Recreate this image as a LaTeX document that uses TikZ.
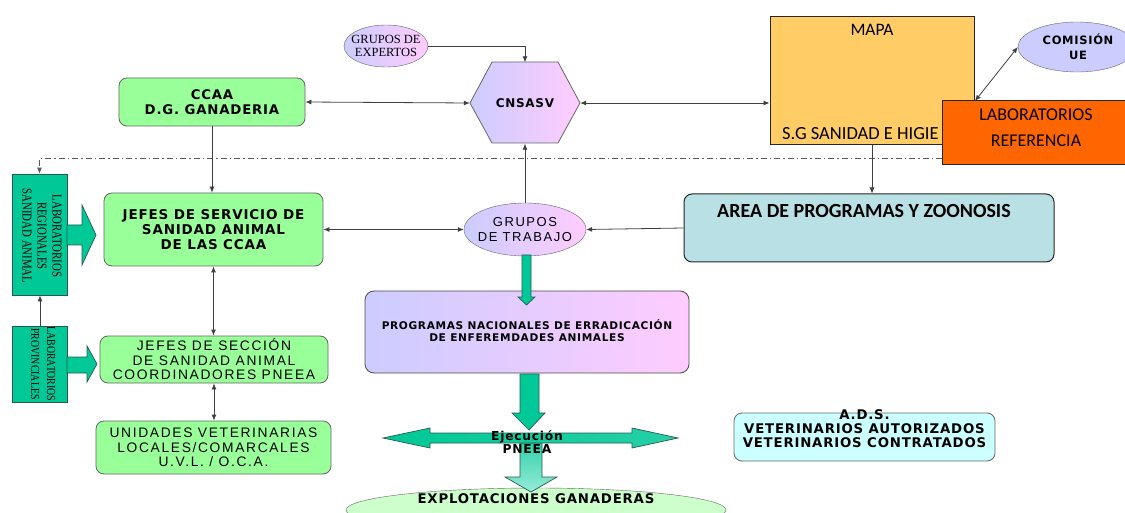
\documentclass[tikz,border=0pt]{standalone}
\usepackage{fontspec}
\setmainfont{DejaVu Sans}
\newfontfamily\vb[LetterSpace=6]{DejaVu Sans Bold}
\newfontfamily\ar[LetterSpace=12]{Liberation Sans}
\newfontfamily\cb{Carlito}
\newfontfamily\tm{Liberation Serif}
\newfontfamily\tmc[FakeStretch=0.8]{Liberation Serif}
\usetikzlibrary{arrows.meta,calc,shapes.geometric}
\definecolor{lgreen}{RGB}{153,255,153}
\definecolor{lav}{RGB}{204,204,255}
\definecolor{pnk}{RGB}{255,204,255}
\definecolor{mapac}{RGB}{255,204,102}
\definecolor{labc}{RGB}{255,102,0}
\definecolor{areac}{RGB}{185,224,228}
\definecolor{adsc}{RGB}{204,255,255}
\definecolor{explc}{RGB}{204,255,204}
\definecolor{tealc}{RGB}{0,200,150}
\definecolor{teald}{RGB}{40,90,80}
\definecolor{tealh}{RGB}{150,235,215}
\begin{document}
\begin{tikzpicture}[x=1pt,y=-1pt,
  con/.style={draw=black!75, line width=0.8pt, -{Latex[length=6pt,width=5pt]}},
  dcon/.style={draw=black!75, line width=0.8pt, {Latex[length=6pt,width=5pt]}-{Latex[length=6pt,width=5pt]}},
  gbox/.style={draw=black!60, line width=0.8pt, rounded corners=8pt, fill=lgreen, align=center, inner sep=0pt},
  grad/.style={left color=lav, right color=pnk},
  blk/.style={fill=tealc, draw=teald, line width=0.7pt},
  txt/.style={align=center, inner sep=0pt}
]
\useasboundingbox (0,0) rectangle (1125,513);

% top row
\node[ellipse, draw=black!60, grad, minimum width=84pt, minimum height=42pt, inner sep=0pt] (exp) at (386,46) {};
\node[txt, font={\tm\fontsize{12.5}{12.5}\selectfont}] (expt) at (386,46) {GRUPOS DE\\EXPERTOS};
\path[draw=black!60, line width=0.8pt, grad] (470,103) -- (492,62) -- (558,62) -- (580,103) -- (558,143) -- (492,143) -- cycle;
\node[minimum width=110pt, minimum height=81pt, inner sep=0pt, font={\vb\fontsize{12}{12}\selectfont}] (cns) at (525,103) {CNSASV};
\node[gbox, minimum width=186pt, minimum height=48pt, font={\vb\fontsize{13.3}{15}\selectfont}] (ccaa) at (212,102) {CCAA\\D.G. GANADERIA};
\node[draw=black!85, line width=1pt, fill=mapac, minimum width=204pt, minimum height=128pt] (mapa) at (872,81) {};
\node[txt, font={\cb\fontsize{17.5}{17}\selectfont}] (mapat) at (872,30) {MAPA};
\node[txt, anchor=west, font={\cb\fontsize{18.5}{17}\selectfont}] (mapab) at (782,134) {S.G SANIDAD E HIGIE};
\node[ellipse, draw=black!60, fill=lav, minimum width=118pt, minimum height=50pt, inner sep=0pt] (com) at (1077,47) {};
\node[txt, font={\vb\fontsize{11.5}{15}\selectfont}] (comt) at (1078,47) {COMISIÓN\\UE};
\node[draw=black!85, line width=1pt, fill=labc, minimum width=188pt, minimum height=64pt] (lab) at (1036,133) {};
\node[txt, font={\cb\fontsize{18}{26}\selectfont}] (labt) at (1036,128) {LABORATORIOS\\REFERENCIA};
\coordinate (labc) at (975,101);

\draw[con] (exp.east) -| (cns.north);
\draw[dcon] (ccaa.east) -- (cns.west);
\draw[dcon] (cns.east) -- (mapa.west |- cns.east);
\draw[dcon] (labc) -- (com.west);

% dash-dot line
\coordinate (dd) at (942,158);

% lab boxes left
\node[blk, minimum width=55pt, minimum height=121pt] (labr) at (39.5,234.5) {};
\node[txt, rotate=-90, font={\tmc\fontsize{13.5}{15}\selectfont}] (labrt) at (42,236) {LABORATORIOS\\REGIONALES\\SANIDAD ANIMAL};
\node[blk, minimum width=55pt, minimum height=76pt] (labp) at (39.5,364) {};
\node[txt, rotate=-90, font={\tmc\fontsize{12.3}{16}\selectfont}] (labpt) at (43,364) {LABORATORIOS\\PROVINCIALES};
\draw[con, dash pattern=on 6pt off 3pt on 1.5pt off 3pt, draw=black!65] (dd) -| (labr.north);
\draw[con] (labp.north -| 40,0) -- (labr.south -| 40,0);

\path[blk] (67,225) -- (82,225) -- (82,205) -- (96,235) -- (82,265) -- (82,245) -- (67,245) -- cycle;
\path[blk] (67,357) -- (87,357) -- (87,346) -- (97,364) -- (87,382) -- (87,373) -- (67,373) -- cycle;

% middle
\node[gbox, minimum width=219pt, minimum height=73pt, font={\vb\fontsize{13.5}{15}\selectfont}] (jefes) at (213.5,229.5) {JEFES DE SERVICIO DE\\SANIDAD ANIMAL\\DE LAS CCAA};
\node[gbox, minimum width=228pt, minimum height=47pt, font={\ar\fontsize{13.8}{14.5}\selectfont}] (secc) at (214,359.5) {JEFES DE SECCIÓN\\DE SANIDAD ANIMAL\\COORDINADORES PNEEA};
\node[gbox, minimum width=235pt, minimum height=53pt, font={\ar\fontsize{13.8}{14.5}\selectfont}] (uvl) at (213.5,447.5) {UNIDADES VETERINARIAS\\LOCALES/COMARCALES\\U.V.L. / O.C.A.};
\node[ellipse, draw=black!60, grad, minimum width=122pt, minimum height=53pt, inner sep=0pt] (gdt) at (525,229.5) {};
\node[txt, font={\ar\fontsize{13}{14.5}\selectfont}] (gdtt) at (525,229.5) {GRUPOS\\DE TRABAJO};
\node[draw=black!85, line width=1pt, fill=areac, rounded corners=8pt, minimum width=370pt, minimum height=68pt] (area) at (869,228) {};
\node[txt, font={\cb\bfseries\fontsize{20}{20}\selectfont}] (areat) at (864,211) {AREA DE PROGRAMAS Y ZOONOSIS};

\draw[con] (ccaa.south) -- (ccaa.south |- jefes.north);
\draw[con] (mapa.south) -- (mapa.south |- area.north);
\draw[con] (gdt.north) -- (cns.south);
\draw[dcon] (jefes.east) -- (gdt.west);
\draw[con] (area.west) -- (gdt.east);
\draw[dcon] (jefes.south) -- (jefes.south |- secc.north);
\draw[dcon] (secc.south) -- (secc.south |- uvl.north);

\node[draw=black!70, line width=0.8pt, rounded corners=9pt, grad, minimum width=324pt, minimum height=82pt] (prog) at (527,332) {};
\node[txt, font={\vb\fontsize{10.6}{12}\selectfont}] (progt) at (527,331) {PROGRAMAS NACIONALES DE ERRADICACIÓN\\DE ENFEREMDADES ANIMALES};
\path[blk] (522,255) -- (531,255) -- (531,297) -- (535,297) -- (526.5,305) -- (518,297) -- (522,297) -- cycle;

% bottom
\node[ellipse, draw=black!60, fill=explc, minimum width=380pt, minimum height=44pt, inner sep=0pt] (expl) at (536,510) {};
\node[txt, font={\vb\fontsize{13.3}{13}\selectfont}] (explt) at (536,499) {EXPLOTACIONES GANADERAS};
\path[draw=teald, line width=0.7pt, top color=tealc!80, bottom color=tealh] (520,443) -- (542,443) -- (542,477) -- (557,477) -- (531,492) -- (505,477) -- (520,477) -- cycle;
\path[draw=teald, line width=0.7pt, left color=tealc, right color=tealc!85] (383,438) -- (430,428) -- (430,433) -- (632,433) -- (632,428) -- (678,438) -- (632,448) -- (632,443) -- (430,443) -- (430,448) -- cycle;
\path[blk] (520,374) -- (539,374) -- (539,413) -- (545,413) -- (529,430) -- (512,413) -- (520,413) -- cycle;
\node[txt, font={\vb\fontsize{12.3}{12.5}\selectfont}] (ejec) at (527,442) {Ejecución\\PNEEA};

\node[draw=black!60, line width=0.8pt, rounded corners=8pt, fill=adsc, minimum width=261pt, minimum height=48pt] (ads) at (864.5,437) {};
\node[txt, font={\vb\fontsize{13.3}{14}\selectfont}] (adst) at (864.5,429) {A.D.S.\\VETERINARIOS AUTORIZADOS\\VETERINARIOS CONTRATADOS};
\end{tikzpicture}
\end{document}
